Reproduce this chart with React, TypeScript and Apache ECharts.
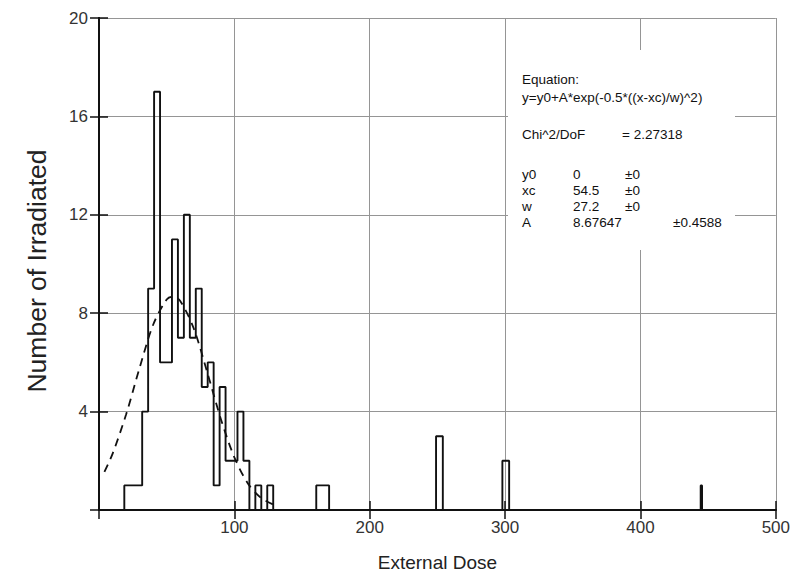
import React, { useEffect, useRef } from "react";
import * as echarts from "echarts";

// Histogram bins: left edge, right edge, count
const binFrom = [18.7, 23.1, 27.5, 31.9, 36.3, 40.7, 45.1, 49.5, 53.9, 58.3, 62.7, 67.1, 71.5, 75.9, 80.3, 84.7, 89.1, 93.5, 97.9, 102.3, 106.7, 115.5, 124.3, 160.5, 249, 298, 444.5];
const binTo = [23.1, 27.5, 31.9, 36.3, 40.7, 45.1, 49.5, 53.9, 58.3, 62.7, 67.1, 71.5, 75.9, 80.3, 84.7, 89.1, 93.5, 97.9, 102.3, 106.7, 111.1, 119.9, 128.7, 170, 254, 303, 445.5];
const binCount = [1, 1, 1, 4, 9, 17, 6, 6, 11, 7, 12, 7, 9, 5, 6, 1, 5, 2, 2, 4, 2, 1, 1, 1, 3, 2, 1];

// Dashed fitted curve
const fitDose = [4, 10, 20, 30, 40, 50, 54.5, 60, 70, 80, 90, 100, 110, 120, 130];
const fitCount = [1.55, 2.28, 3.88, 5.78, 7.53, 8.56, 8.68, 8.5, 7.38, 5.59, 3.7, 2.14, 1.08, 0.48, 0.19];

const xTicks = [0, 100, 200, 300, 400, 500];
const yTicks = [0, 4, 8, 12, 16, 20];

const fitLabels = ["y0", "xc", "w", "A"];
const fitValues = ["0", "54.5", "27.2", "8.67647"];
const fitErrors = ["\u00b10", "\u00b10", "\u00b10", "\u00b10.4588"];

const FONT = '"Liberation Sans", Arial, Helvetica, sans-serif';

export default function App() {
  const ref = useRef<HTMLDivElement>(null);

  useEffect(() => {
    if (!ref.current) return;
    const chart = echarts.init(ref.current, null, { renderer: "svg" });

    const outline: number[][] = [];
    let lastEnd: number | null = null;
    for (let i = 0; i < binFrom.length; i++) {
      const f = binFrom[i];
      const t = binTo[i];
      const c = binCount[i];
      if (lastEnd === null) outline.push([f, 0]);
      else if (f > lastEnd + 1e-6) {
        outline.push([lastEnd, 0]);
        outline.push([f, 0]);
      }
      outline.push([f, c]);
      outline.push([t, c]);
      lastEnd = t;
    }
    if (lastEnd !== null) outline.push([lastEnd, 0]);

    const fit = fitDose.map((d, i) => [d, fitCount[i]]);

    const txt = (text: string, x: number, y: number, size = 13.5) => ({
      type: "text",
      x,
      y,
      z: 11,
      style: {
        text,
        fill: "#111",
        fontSize: size,
        fontFamily: FONT,
        align: "left",
        verticalAlign: "middle",
      },
    });

    const boxTexts: any[] = [
      txt("Equation:", 522, 79),
      txt("y=y0+A*exp(-0.5*((x-xc)/w)^2)", 522, 97),
      txt("Chi^2/DoF", 522, 134),
      txt("= 2.27318", 622, 134),
    ];
    const rowY = [174, 190, 206, 222];
    fitLabels.forEach((l, i) => {
      boxTexts.push(txt(l, 522, rowY[i]));
      boxTexts.push(txt(fitValues[i], 573, rowY[i]));
      boxTexts.push(txt(fitErrors[i], i === 3 ? 673 : 625, rowY[i]));
    });

    const xMin = xTicks[0];
    const xMax = xTicks[xTicks.length - 1];
    const yMin = yTicks[0];
    const yMax = yTicks[yTicks.length - 1];

    const tickStyle = { inside: true, length: 9, lineStyle: { color: "#111", width: 1.5 } };
    const lineStyleAxis = { color: "#111", width: 1.9 };

    chart.setOption({
      animation: false,
      backgroundColor: "#fff",
      grid: { left: 99, right: 16, top: 18, bottom: 65, containLabel: false },
      xAxis: [
        {
          type: "value",
          min: xMin,
          max: xMax,
          interval: 100,
          name: "External Dose",
          nameLocation: "middle",
          nameGap: 43,
          nameTextStyle: { fontSize: 19, fontFamily: FONT, color: "#222" },
          axisLine: { show: true, onZero: false, lineStyle: lineStyleAxis },
          axisTick: tickStyle,
          axisLabel: {
            fontSize: 17,
            fontFamily: FONT,
            color: "#333",
            margin: 9,
            formatter: (v: number) => (v === 0 ? "" : String(v)),
          },
          splitLine: { show: true, lineStyle: { color: "#959595", width: 1 } },
        },
        {
          type: "value",
          position: "top",
          min: xMin,
          max: xMax,
          interval: 100,
          axisLine: { show: true, lineStyle: lineStyleAxis },
          axisTick: tickStyle,
          axisLabel: { show: false },
          splitLine: { show: false },
        },
      ],
      yAxis: [
        {
          type: "value",
          min: yMin,
          max: yMax,
          interval: 4,
          axisLine: { show: true, onZero: false, lineStyle: lineStyleAxis },
          axisTick: tickStyle,
          axisLabel: {
            fontSize: 17,
            fontFamily: FONT,
            color: "#333",
            margin: 11,
            formatter: (v: number) => (v === 0 ? "" : String(v)),
          },
          splitLine: { show: true, lineStyle: { color: "#959595", width: 1 } },
        },
        {
          type: "value",
          position: "right",
          min: yMin,
          max: yMax,
          interval: 4,
          axisLine: { show: true, lineStyle: lineStyleAxis },
          axisTick: tickStyle,
          axisLabel: { show: false },
          splitLine: { show: false },
        },
      ],
      series: [
        {
          type: "line",
          name: "histogram",
          data: outline,
          xAxisIndex: 0,
          yAxisIndex: 0,
          symbol: "none",
          lineStyle: { color: "#111", width: 1.9 },
          z: 3,
        },
        {
          type: "line",
          name: "fit",
          data: fit,
          xAxisIndex: 0,
          yAxisIndex: 0,
          smooth: 0.3,
          symbol: "none",
          lineStyle: { color: "#111", width: 1.8, type: [8, 6] },
          z: 4,
        },
      ],
      graphic: [
        {
          type: "rect",
          z: 10,
          shape: { x: 508, y: 50, width: 227, height: 200 },
          style: { fill: "#fff" },
        },
        ...boxTexts,
        {
          type: "text",
          x: 37,
          y: 271,
          rotation: Math.PI / 2,
          z: 11,
          style: {
            text: "Number of Irradiated",
            fill: "#222",
            fontSize: 26.5,
            fontFamily: FONT,
            align: "center",
            verticalAlign: "middle",
          },
        },
      ],
    });

    return () => chart.dispose();
  }, []);

  return (
    <div
      ref={ref}
      style={{ position: "fixed", left: 0, top: 0, width: 793, height: 577, background: "#fff" }}
    />
  );
}
